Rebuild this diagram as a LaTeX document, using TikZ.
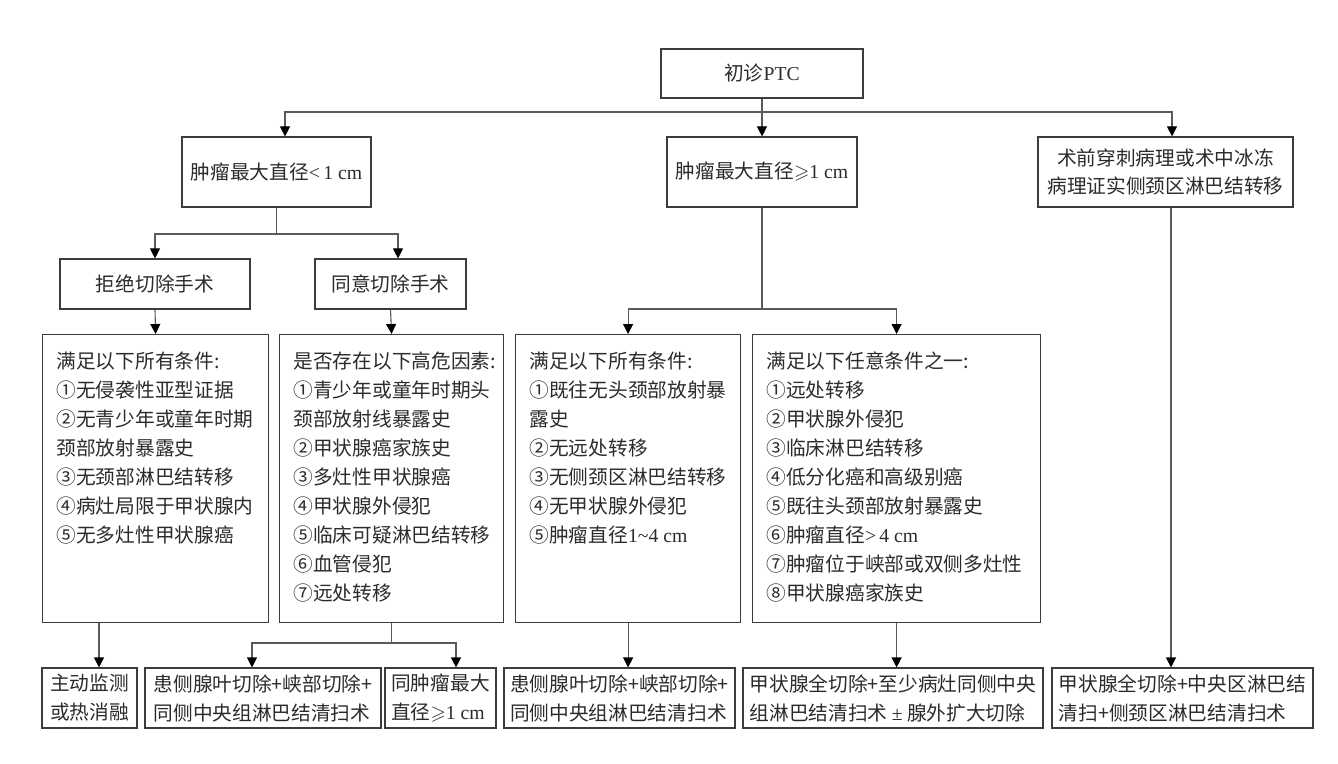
\documentclass[tikz,border=0pt]{standalone}
\usepackage{amssymb}
\usepackage{fontspec}
\setmainfont{Noto Sans CJK SC}
\newfontfamily\lat{Liberation Serif}
\usepackage{xcolor}
\definecolor{ptcframe}{HTML}{3C3C3C}
\definecolor{ptcwire}{HTML}{5A5A5A}
\definecolor{ptcink}{HTML}{2B2B2B}
\usepackage{tikz}
\usetikzlibrary{arrows.meta,positioning,calc}
\tikzset{
  ptcbox/.style={draw=ptcframe,line width=0.8pt,text=ptcink,inner sep=2pt,align=center,font={\fontsize{14pt}{20.6pt}\selectfont}},
  ptccrit/.style={draw=ptcframe,line width=0.8pt,text=ptcink,anchor=north west,inner xsep=0.35cm,inner ysep=0.43cm,font={\fontsize{14pt}{20.6pt}\selectfont}},
  ptcflow/.style={draw=ptcwire,line width=0.8pt,-{Triangle[length=0.25cm,width=0.25cm,color=black]}},
  ptcjoin/.style={draw=ptcwire,line width=0.8pt},
}

\begin{document}
\begin{tikzpicture}[x=0.025cm,y=-0.025cm]
\useasboundingbox (0,0) rectangle (1338,763);
 % PTC treatment pathway
\node[ptcbox,minimum width=5.05cm,minimum height=1.225cm] (ptc) at (762,73.5) {初诊{\lat PTC}};
\node[ptcbox,minimum width=4.725cm,minimum height=1.75cm] (small) at (276.5,172) {肿瘤最大直径{\lat <\,1 cm}};
\node[ptcbox,minimum width=4.75cm,minimum height=1.75cm] (large) at (762,172) {肿瘤最大直径$\geqslant${\lat 1 cm}};
\node[ptcbox,minimum width=6.375cm,minimum height=1.75cm] (lateral) at (1165.5,172) {术前穿刺病理或术中冰冻\\病理证实侧颈区淋巴结转移};
\node[ptcbox,minimum width=4.75cm,minimum height=1.25cm] (refuse) at (155,284) {拒绝切除手术};
\node[ptcbox,minimum width=3.775cm,minimum height=1.25cm] (accept) at (390.5,284) {同意切除手术};
\node[ptccrit] (crit1) at (42,334) {\parbox[t][6.34cm][t]{4.95cm}{满足以下所有条件:\\①无侵袭性亚型证据\\②无青少年或童年时期\\颈部放射暴露史\\③无颈部淋巴结转移\\④病灶局限于甲状腺内\\⑤无多灶性甲状腺癌}};
\node[ptccrit] (crit2) at (279,334) {\parbox[t][6.34cm][t]{4.9cm}{是否存在以下高危因素:\\①青少年或童年时期头\\颈部放射线暴露史\\②甲状腺癌家族史\\③多灶性甲状腺癌\\④甲状腺外侵犯\\⑤临床可疑淋巴结转移\\⑥血管侵犯\\⑦远处转移}};
\node[ptccrit] (crit3) at (515,334) {\parbox[t][6.34cm][t]{4.925cm}{满足以下所有条件:\\①既往无头颈部放射暴\\露史\\②无远处转移\\③无侧颈区淋巴结转移\\④无甲状腺外侵犯\\⑤肿瘤直径{\lat 1\textasciitilde4 cm}}};
\node[ptccrit] (crit4) at (752,334) {\parbox[t][6.34cm][t]{6.5cm}{满足以下任意条件之一:\\①远处转移\\②甲状腺外侵犯\\③临床淋巴结转移\\④低分化癌和高级别癌\\⑤既往头颈部放射暴露史\\⑥肿瘤直径{\lat >\,4 cm}\\⑦肿瘤位于峡部或双侧多灶性\\⑧甲状腺癌家族史}};
\node[ptcbox,minimum width=2.375cm,minimum height=1.5cm] (watch) at (89.5,698) {主动监测\\或热消融};
\node[ptcbox,align=left,minimum width=5.9cm,minimum height=1.5cm] (lobe1) at (263,698) {患侧腺叶切除+峡部切除+\\同侧中央组淋巴结清扫术};
\node[ptcbox,align=left,minimum width=2.775cm,minimum height=1.5cm] (same) at (440.5,698) {同肿瘤最大\\直径$\geqslant${\lat 1 cm}};
\node[ptcbox,align=left,minimum width=5.775cm,minimum height=1.5cm] (lobe2) at (619.5,698) {患侧腺叶切除+峡部切除+\\同侧中央组淋巴结清扫术};
\node[ptcbox,align=left,minimum width=7.5cm,minimum height=1.5cm] (total1) at (893,698) {甲状腺全切除+至少病灶同侧中央\\组淋巴结清扫术 {\lat ±} 腺外扩大切除};
\node[ptcbox,align=left,minimum width=6.525cm,minimum height=1.5cm] (total2) at (1182.5,698) {甲状腺全切除+中央区淋巴结\\清扫+侧颈区淋巴结清扫术};
\coordinate (bus) at (762,112);
\coordinate (smallfork) at (276.5,234);
\coordinate (largefork) at (762,309);
\coordinate (acceptfork) at (392,643);
\coordinate (watchin) at ([xshift=0.2375cm]watch.north);
\coordinate (latdrop) at ([xshift=0.1375cm]lateral.south);
\draw[ptcflow] (ptc.south) -- (bus) -| ([xshift=0.2125cm]small.north);
\draw[ptcflow] (bus) -- (large.north);
\draw[ptcflow] (bus) -| ([xshift=0.1625cm]lateral.north);
\draw[ptcjoin] (small.south) -- (smallfork);
\draw[ptcflow] (smallfork) -| (refuse.north);
\draw[ptcflow] (smallfork) -| ([xshift=0.1875cm]accept.north);
\draw[ptcflow] (refuse.south) -- (crit1.north);
\draw[ptcflow] (accept.south) -- (crit2.north);
\draw[ptcjoin] (large.south) -- (largefork);
\draw[ptcflow] (largefork) -| (crit3.north);
\draw[ptcflow] (largefork) -| (crit4.north);
\draw[ptcflow] (watchin |- crit1.south) -- (watchin);
\draw[ptcjoin] (crit2.south) -- (crit2.south |- acceptfork);
\draw[ptcflow] (acceptfork) -| ([xshift=-0.275cm]lobe1.north);
\draw[ptcflow] (acceptfork) -| ([xshift=0.3875cm]same.north);
\draw[ptcflow] (crit3.south) -- (crit3.south |- lobe2.north);
\draw[ptcflow] (crit4.south) -- (crit4.south |- total1.north);
\draw[ptcflow] (latdrop) -- (latdrop |- total2.north);
\end{tikzpicture}
\end{document}
